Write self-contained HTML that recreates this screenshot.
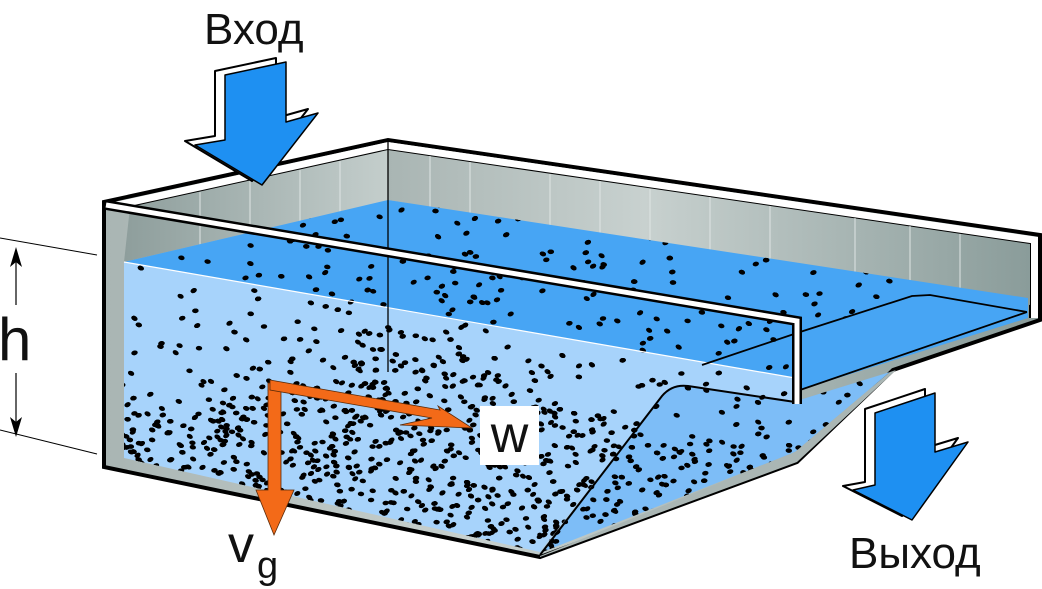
<!DOCTYPE html>
<html><head><meta charset="utf-8"><style>
html,body{margin:0;padding:0;background:#fff;}
svg{display:block;}
text{font-family:"Liberation Sans","DejaVu Sans",sans-serif;fill:#111;}
</style></head><body>
<svg id="s" width="1042" height="589" viewBox="0 0 1042 589" xmlns="http://www.w3.org/2000/svg">
<defs>
<linearGradient id="gw" x1="0" x2="1" y1="0" y2="0"><stop offset="0" stop-color="#a9b5b3"/><stop offset="0.4" stop-color="#c8d1cf"/><stop offset="1" stop-color="#8a9c9a"/></linearGradient>
<linearGradient id="gl" x1="0" x2="1"><stop offset="0" stop-color="#8e9e9c"/><stop offset="1" stop-color="#c4cecc"/></linearGradient>
<clipPath id="cw">
<polygon points="124,262 388,200 1028,298 1028,318 795,390 795,402 683,385 665,392 540,552 124,458"/>
<polygon points="540,553 665,392 683,385 793,402 890,372 795,452"/>
</clipPath>
</defs>
<polygon points="104,202 388,140 1040,235 1040,320 893,370 797,462 540,557 104,467" fill="url(#gw)" stroke="#000" stroke-width="4" stroke-linejoin="miter"/>
<polygon points="106,204 388,142 1038,237 1038,318 1030,318 1030,244 388,150 130,207" fill="#fff"/>
<polyline points="130,207 388,150 1030,244 1030,318" fill="none" stroke="#000" stroke-width="2"/>
<polygon points="130,207 388,150 388,200 124,262" fill="url(#gl)"/>
<polygon points="388,150 1030,244 1030,305 388,200" fill="url(#gw)"/>
<g stroke="#dfe5e4" stroke-width="1">
<line x1="430" y1="156" x2="430" y2="207"/><line x1="470" y1="162" x2="470" y2="213"/><line x1="550" y1="174" x2="550" y2="226"/><line x1="600" y1="181" x2="600" y2="235"/><line x1="650" y1="189" x2="650" y2="243"/><line x1="710" y1="197" x2="710" y2="253"/><line x1="770" y1="206" x2="770" y2="262"/><line x1="855" y1="218" x2="855" y2="276"/><line x1="910" y1="226" x2="910" y2="285"/><line x1="960" y1="234" x2="960" y2="293"/>
<line x1="300" y1="170" x2="300" y2="222"/><line x1="250" y1="181" x2="250" y2="233"/><line x1="200" y1="192" x2="200" y2="245"/><line x1="340" y1="161" x2="340" y2="212"/>
</g>
<polygon points="124,262 388,200 1028,298 1028,318 795,390 795,378" fill="#47a5f4"/>
<polygon points="124,262 795,378 795,402 683,385 665,392 540,552 124,458" fill="#a7d3fb"/>
<polygon points="540,553 665,392 683,385 793,402 890,372 795,452" fill="#7dbdf7"/>
<polygon points="540,556 795,452 890,372 896,370 797,462 540,557" fill="#aab6b4"/>
<g id="dots" clip-path="url(#cw)" fill="#000"></g>
<line x1="124" y1="262" x2="795" y2="378" stroke="#fff" stroke-width="1.2"/>
<line x1="388" y1="140" x2="388" y2="372" stroke="#000" stroke-width="1.3"/>
<path d="M540,555 L662,396 Q672,384 688,386 L795,402" fill="none" stroke="#000" stroke-width="2"/>
<polygon points="800,332 917,295 1027,312 1027,318 800,390" fill="#47a5f4"/>
<polyline points="702,365 800,332 912,296 930,295 1027,312" fill="none" stroke="#000" stroke-width="1.8"/>
<line x1="800" y1="390" x2="1027" y2="312" stroke="#000" stroke-width="1.8"/>
<polyline points="106,205 797,321 797,404" fill="none" stroke="#000" stroke-width="10" stroke-linejoin="miter"/>
<polyline points="106,205 797,321 797,404" fill="none" stroke="#fff" stroke-width="5" stroke-linejoin="miter"/>
<polygon points="215,71 276,58 276,118 308,109 252,181 185,141 215,136" fill="#fff" stroke="#000" stroke-width="2" stroke-linejoin="round"/>
<polygon points="225,75 286,62 286,122 318,113 262,185 195,145 225,140" fill="#1e90f2" stroke="#000" stroke-width="1.5" stroke-linejoin="round"/>
<polygon points="865,409 925,389 925,448 958,438 902,516 843,486 865,482" fill="#fff" stroke="#000" stroke-width="2" stroke-linejoin="round"/>
<polygon points="875,413 935,393 935,452 968,442 912,520 853,490 875,485" fill="#1e90f2" stroke="#000" stroke-width="1.5" stroke-linejoin="round"/>
<polygon points="268,383 281,383 281,490 294,490 274,535 256,490 268,490" fill="#f36a18" stroke="#5a2a08" stroke-width="0.8"/>
<polygon points="270,380 440,410 438,406 472,428 400,425 432,418 270,390" fill="#f36a18" stroke="#5a2a08" stroke-width="0.8"/>
<rect x="480" y="406" width="59" height="59" fill="#fff"/>
<text x="509.5" y="452" font-size="52" text-anchor="middle">w</text>
<text x="204" y="44" font-size="44">Вход</text>
<text x="849" y="568" font-size="44">Выход</text>
<text x="228" y="562" font-size="52">v</text>
<text x="257" y="578" font-size="38">g</text>
<text x="-2" y="360" font-size="60">h</text>
<line x1="0" y1="238" x2="97" y2="255" stroke="#000" stroke-width="1"/>
<line x1="0" y1="430" x2="97" y2="454" stroke="#000" stroke-width="1"/>
<line x1="16" y1="258" x2="16" y2="305" stroke="#000" stroke-width="1.2"/>
<polygon points="16,247 10,267 16,262 22,267" fill="#000"/>
<line x1="16" y1="373" x2="16" y2="426" stroke="#000" stroke-width="1.2"/>
<polygon points="16,437 10,417 16,422 22,417" fill="#000"/>
</svg>
<script>
(function(){
var g=document.getElementById('dots');var seed=12345;
function r(){seed=(seed*1103515245+12345)%2147483648;return seed/2147483648;}
var out='';
function mound(x){return 440-85*Math.exp(-Math.pow((x-400)/190,2));}
for(var i=0;i<9000;i++){
 var x=120+r()*790,y=195+r()*365,p;
 var m=mound(x);
 if(x>560){p=(y>m+5)?0.55:0.14;} else p=(y>m)?0.85:(y>m-30?0.35:0.13);
 if(y<300&&x>420)p=0.13;
 if(r()<p*0.75){
  var a=(r()*60-30).toFixed(0);
  out+='<ellipse cx="'+x.toFixed(1)+'" cy="'+y.toFixed(1)+'" rx="3.2" ry="2.3" transform="rotate('+a+' '+x.toFixed(1)+' '+y.toFixed(1)+')"/>';
 }
}
g.innerHTML=out;
})();
</script>
</body></html>
